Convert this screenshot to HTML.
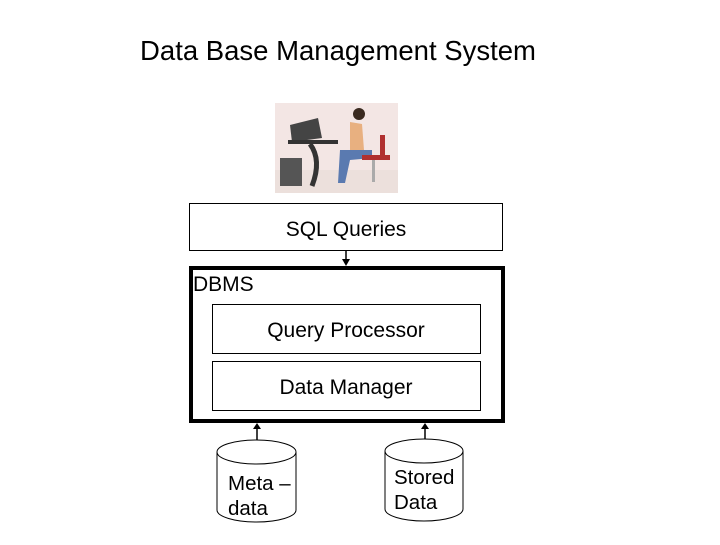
<!DOCTYPE html>
<html><head><style>
body{margin:0;width:720px;height:540px;background:#fff;overflow:hidden;font-family:"Liberation Sans",sans-serif}
</style></head><body>
<svg width="720" height="540" xmlns="http://www.w3.org/2000/svg" font-family="Liberation Sans, sans-serif">
<text x="338" y="60" font-size="27.5" text-anchor="middle">Data Base Management System</text>
<!-- picture -->
<rect x="275" y="103" width="123" height="90" fill="#f3e6e4"/>
<rect x="275" y="170" width="123" height="23" fill="#ece0dc"/>
<rect x="280" y="158" width="22" height="28" fill="#555"/>
<polygon points="290,125 318,118 322,138 292,142" fill="#444"/>
<rect x="288" y="140" width="50" height="4" fill="#333"/>
<path d="M310 144 Q322 160 312 186" stroke="#333" stroke-width="5" fill="none"/>
<circle cx="359" cy="114" r="6" fill="#3a2a20"/>
<path d="M350 122 L362 124 L364 150 L350 150 Z" fill="#e8b080"/>
<path d="M340 150 L372 150 L372 158 L350 160 L345 183 L338 183 Z" fill="#5a7ab0"/>
<rect x="362" y="155" width="28" height="5" fill="#b03030"/>
<rect x="380" y="135" width="5" height="25" fill="#b03030"/>
<rect x="372" y="160" width="3" height="22" fill="#aaa"/>
<!-- SQL box -->
<rect x="189.5" y="203.5" width="313" height="47" fill="#fff" stroke="#000"/>
<text x="346" y="236" font-size="21" text-anchor="middle">SQL Queries</text>
<line x1="346" y1="250" x2="346" y2="262" stroke="#000" stroke-width="1.5"/>
<polygon points="342,259 350,259 346,266" fill="#000"/>
<!-- DBMS -->
<rect x="191" y="268" width="312" height="153" fill="#fff" stroke="#000" stroke-width="4"/>
<text x="193" y="291" font-size="21">DBMS</text>
<rect x="212.5" y="304.5" width="268" height="49" fill="#fff" stroke="#000"/>
<text x="346" y="337" font-size="21" text-anchor="middle">Query Processor</text>
<rect x="212.5" y="361.5" width="268" height="49" fill="#fff" stroke="#000"/>
<text x="346" y="394" font-size="21" text-anchor="middle">Data Manager</text>
<!-- arrows up -->
<line x1="257" y1="440" x2="257" y2="427" stroke="#000" stroke-width="1.5"/>
<polygon points="253,429 261,429 257,423" fill="#000"/>
<line x1="425" y1="440" x2="425" y2="427" stroke="#000" stroke-width="1.5"/>
<polygon points="421,429 429,429 425,423" fill="#000"/>
<!-- cylinders -->
<path d="M217 452 A39.5 12 0 0 1 296 452 L296 510 A39.5 12 0 0 1 217 510 Z" fill="#fff" stroke="#000"/>
<path d="M217 452 A39.5 12 0 0 0 296 452" fill="none" stroke="#000"/>
<text x="228" y="490" font-size="20.5">Meta –</text>
<text x="228" y="515" font-size="20.5">data</text>
<path d="M385 451 A39 12 0 0 1 463 451 L463 509 A39 12 0 0 1 385 509 Z" fill="#fff" stroke="#000"/>
<path d="M385 451 A39 12 0 0 0 463 451" fill="none" stroke="#000"/>
<text x="394" y="484" font-size="20.5">Stored</text>
<text x="394" y="509" font-size="20.5">Data</text>
</svg>
</body></html>
